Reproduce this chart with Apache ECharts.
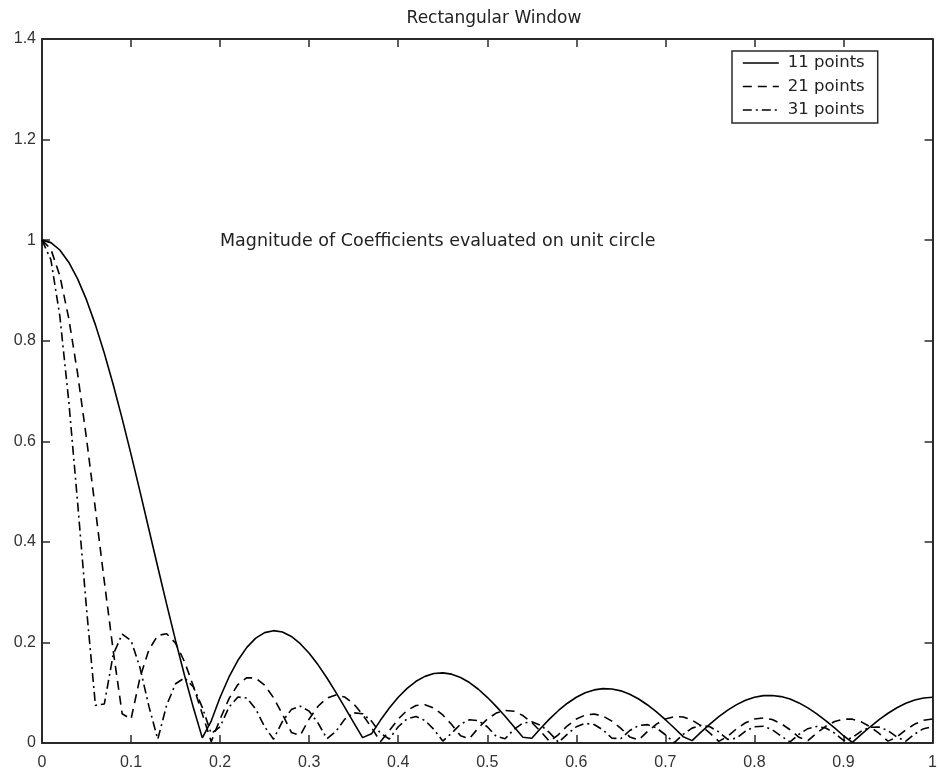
<!DOCTYPE html>
<html>
<head>
<meta charset="utf-8">
<script src="https://cdn.jsdelivr.net/npm/echarts@6/dist/echarts.min.js"></script>
<style>html,body{margin:0;padding:0;background:#fff}#c{width:940px;height:776px}</style>
</head>
<body>
<div id="c"></div>
<script>
// Frequency axis (normalized), step 0.01 from 0 to 1
var freq = [];
for (var i = 0; i <= 100; i++) freq.push(+(i / 100).toFixed(2));

var pts11 = [1.0000,0.9951,0.9804,0.9562,0.9229,0.8811,0.8315,0.7750,0.7125,0.6451,
0.5740,0.5003,0.4251,0.3499,0.2756,0.2035,0.1346,0.0699,0.0102,0.0436,
0.0909,0.1313,0.1645,0.1902,0.2085,0.2195,0.2234,0.2207,0.2118,0.1975,
0.1784,0.1554,0.1292,0.1007,0.0709,0.0406,0.0107,0.0182,0.0451,0.0696,
0.0909,0.1087,0.1227,0.1325,0.1381,0.1395,0.1369,0.1303,0.1202,0.1069,
0.0909,0.0728,0.0531,0.0324,0.0114,0.0094,0.0293,0.0479,0.0647,0.0791,
0.0909,0.0998,0.1056,0.1081,0.1075,0.1037,0.0969,0.0875,0.0756,0.0618,
0.0463,0.0298,0.0126,0.0047,0.0216,0.0377,0.0524,0.0654,0.0763,0.0849,
0.0909,0.0942,0.0946,0.0923,0.0873,0.0797,0.0699,0.0580,0.0446,0.0299,
0.0144,0.0014,0.0172,0.0323,0.0465,0.0592,0.0702,0.0791,0.0856,0.0896,
0.0909];

var pts21 = [1.0000,0.9820,0.9292,0.8449,0.7345,0.6051,0.4644,0.3210,0.1830,0.0581,
0.0476,0.1296,0.1853,0.2140,0.2173,0.1983,0.1617,0.1128,0.0578,0.0025,
0.0476,0.0883,0.1163,0.1299,0.1291,0.1150,0.0899,0.0573,0.0210,0.0153,
0.0476,0.0731,0.0894,0.0955,0.0913,0.0777,0.0566,0.0307,0.0027,0.0244,
0.0476,0.0649,0.0746,0.0761,0.0695,0.0558,0.0367,0.0143,0.0087,0.0301,
0.0476,0.0595,0.0648,0.0630,0.0546,0.0407,0.0228,0.0029,0.0168,0.0342,
0.0476,0.0556,0.0575,0.0533,0.0435,0.0292,0.0121,0.0060,0.0231,0.0375,
0.0476,0.0525,0.0517,0.0454,0.0343,0.0197,0.0032,0.0134,0.0284,0.0403,
0.0476,0.0498,0.0467,0.0385,0.0263,0.0114,0.0046,0.0200,0.0332,0.0427,
0.0476,0.0474,0.0421,0.0322,0.0190,0.0037,0.0119,0.0262,0.0376,0.0451,
0.0476];

var pts31 = [1.0000,0.9610,0.8494,0.6807,0.4777,0.2670,0.0748,0.0776,0.1762,0.2166,
0.2037,0.1500,0.0733,0.0075,0.0753,0.1178,0.1295,0.1114,0.0709,0.0189,
0.0323,0.0715,0.0914,0.0894,0.0675,0.0323,0.0076,0.0430,0.0664,0.0733,
0.0633,0.0396,0.0084,0.0230,0.0475,0.0600,0.0583,0.0435,0.0194,0.0079,
0.0323,0.0482,0.0526,0.0448,0.0271,0.0039,0.0194,0.0374,0.0463,0.0443,
0.0323,0.0132,0.0083,0.0273,0.0395,0.0423,0.0353,0.0205,0.0013,0.0177,
0.0323,0.0390,0.0367,0.0260,0.0095,0.0088,0.0248,0.0347,0.0365,0.0299,
0.0164,0.0006,0.0172,0.0296,0.0350,0.0323,0.0221,0.0070,0.0096,0.0237,
0.0323,0.0332,0.0265,0.0138,0.0021,0.0173,0.0285,0.0329,0.0297,0.0197,
0.0051,0.0106,0.0237,0.0313,0.0316,0.0246,0.0119,0.0035,0.0181,0.0285,
0.0323];

var seriesNames = ['11 points', '21 points', '31 points'];
var xTicks = [0, 0.1, 0.2, 0.3, 0.4, 0.5, 0.6, 0.7, 0.8, 0.9, 1];
var yTicks = [0, 0.2, 0.4, 0.6, 0.8, 1, 1.2, 1.4];

function pairs(arr) { return arr.map(function (v, i) { return [freq[i], v]; }); }

var font = 'Liberation Sans, Arial, Helvetica, sans-serif';
var wide = 'DejaVu Sans, Verdana, sans-serif';
var chart = echarts.init(document.getElementById('c'), null, { renderer: 'canvas' });

function axisCommon() {
  return {
    axisLine: { show: true, onZero: false, lineStyle: { color: '#2a2a2a', width: 2 } },
    axisTick: { show: true, inside: true, length: 8, lineStyle: { color: '#2a2a2a', width: 1.5 } },
    splitLine: { show: false }
  };
}

chart.setOption({
  animation: false,
  backgroundColor: '#fff',
  title: {
    text: 'Rectangular Window',
    left: 489, top: 5, textAlign: 'center',
    textStyle: { fontFamily: wide, fontSize: 17, fontWeight: 'normal', color: '#222' }
  },
  grid: { left: 42, top: 39, right: 3, bottom: 33, containLabel: false },
  legend: {
    data: seriesNames,
    orient: 'vertical',
    left: 732, top: 51,
    padding: [2, 13, 3, 10],
    itemGap: 3.5,
    itemWidth: 36, itemHeight: 12,
    itemStyle: { opacity: 0 },
    lineStyle: { width: 1.6 },
    borderColor: '#2a2a2a', borderWidth: 1.5,
    backgroundColor: '#fff',
    textStyle: { fontFamily: wide, fontSize: 16.5, color: '#222', lineHeight: 20, padding: [0, 0, 0, 4] }
  },
  xAxis: [
    Object.assign({
      type: 'value', min: 0, max: 1, interval: 0.1, position: 'bottom',
      axisLabel: {
        show: true, margin: 12, fontFamily: font, fontSize: 16, color: '#333',
        formatter: function (v) { return xTicks.indexOf(+v.toFixed(1)) >= 0 ? String(+v.toFixed(1)) : ''; }
      }
    }, axisCommon()),
    Object.assign({
      type: 'value', min: 0, max: 1, interval: 0.1, position: 'top',
      axisLabel: { show: false }
    }, axisCommon())
  ],
  yAxis: [
    Object.assign({
      type: 'value', min: 0, max: 1.4, interval: 0.2, position: 'left',
      axisLabel: {
        show: true, margin: 6, fontFamily: font, fontSize: 16, color: '#333',
        formatter: function (v) { return String(+v.toFixed(1)); }
      }
    }, axisCommon()),
    Object.assign({
      type: 'value', min: 0, max: 1.4, interval: 0.2, position: 'right',
      axisLabel: { show: false }
    }, axisCommon())
  ],
  graphic: [{
    type: 'text', left: 220, top: 232,
    style: { text: 'Magnitude of Coefficients evaluated on unit circle', font: '17.5px ' + wide, fill: '#222' }
  }],
  series: [
    { name: seriesNames[0], type: 'line', data: pairs(pts11), symbol: 'none', z: 3,
      lineStyle: { color: '#000', width: 1.6, type: 'solid' }, itemStyle: { color: '#000' } },
    { name: seriesNames[1], type: 'line', data: pairs(pts21), symbol: 'none', z: 3,
      lineStyle: { color: '#000', width: 1.6, type: [9, 6] }, itemStyle: { color: '#000' } },
    { name: seriesNames[2], type: 'line', data: pairs(pts31), symbol: 'none', z: 3,
      lineStyle: { color: '#000', width: 1.6, type: [9, 4, 2, 4] }, itemStyle: { color: '#000' } }
  ]
});
</script>
</body>
</html>
